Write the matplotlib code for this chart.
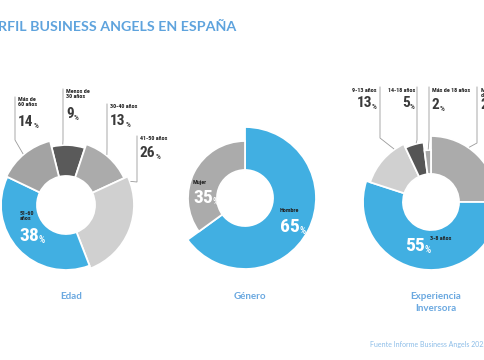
import os
import numpy as np
import matplotlib
matplotlib.use("Agg")
import matplotlib.pyplot as plt
import matplotlib.font_manager as fm

# data
edad_labels = ["Menos de\n30 años", "30-40 años", "41-50 años", "51-60\naños", "Más de\n60 años"]
edad_vals = [9, 13, 26, 38, 14]
genero_labels = ["Hombre", "Mujer"]
genero_vals = [65, 35]
exp_labels = ["Menos\nde 3 años", "3-8 años", "9-13 años", "14-18 años", "Más de 18 años"]
exp_vals = [25, 55, 13, 5, 2]
titles = ["Edad", "Género", "Experiencia\nInversora"]

# style
W, H = 485, 360
BLUE = "#41afe2"
TITLE_BLUE = "#5ea3dd"
LINE = "#9a9a9a"
HEAD = ["Lato", "DejaVu Sans"]


def find_font(names):
    files = {os.path.basename(f.fname).lower(): f.fname for f in fm.fontManager.ttflist}
    for n in names:
        for k, v in files.items():
            if k.startswith(n):
                return fm.FontProperties(fname=v)
    return None


NUM_FP = find_font(["robotocondensed-bold", "liberationsansnarrow-bold.", "dejavusanscondensed-bold.",
                    "notosans-condensedbold", "opensans-condensedbold", "notosans-condensedsemibold"])
TXT_FP = find_font(["robotocondensed-medium", "robotocondensed-regular", "liberationsansnarrow-regular",
                    "dejavusanscondensed.", "notosans-condensedmedium", "notosans-condensed."])
if NUM_FP is None:
    NUM_FP = fm.FontProperties(family="DejaVu Sans", weight="bold")
if TXT_FP is None:
    TXT_FP = fm.FontProperties(family="DejaVu Sans")

fig = plt.figure(figsize=(W / 100, H / 100), dpi=100)
ax = fig.add_axes([0, 0, 1, 1])


def fp(base, size):
    p = base.copy()
    p.set_size(size)
    return p


def donut(vals, center, radii, inner, start, colors):
    cx, cy = center
    wedges, _ = ax.pie(vals, center=(cx, H - cy), radius=max(radii), startangle=start,
                       counterclock=False, colors=colors,
                       wedgeprops=dict(width=max(radii) - inner, edgecolor="white", linewidth=1.3))
    for w, r in zip(wedges, radii):
        w.set_radius(r)
        w.set_width(r - inner)
    return wedges


def point_on(center, r, ang):
    cx, cy = center
    a = np.radians(ang)
    return cx + r * np.cos(a), H - (cy - r * np.sin(a))


def pct(x, y, value, size, color, ha="left"):
    # y is the baseline, in pixels from the top
    if ha == "left":
        t = ax.text(x, H - y, str(value), fontproperties=fp(NUM_FP, size), color=color,
                    ha="left", va="baseline")
        ax.annotate("%", xy=(1, 0), xycoords=t, fontproperties=fp(TXT_FP, size * 0.5),
                    color=color, ha="left", va="bottom")
    else:
        p = ax.text(x, H - y, "%", fontproperties=fp(TXT_FP, size * 0.5), color=color,
                    ha="right", va="baseline")
        ax.annotate(str(value), xy=(0, 0), xycoords=p, fontproperties=fp(NUM_FP, size),
                    color=color, ha="right", va="bottom")


def small(x, y, s, color="#222222", ha="left"):
    ax.text(x, H - y, s, fontproperties=fp(NUM_FP, 4.4), color=color, ha=ha, va="top",
            linespacing=1.0)


def leader(pts):
    xs = [p[0] for p in pts]
    ys = [p[1] for p in pts]
    ax.plot(xs, ys, color=LINE, lw=0.6, solid_joinstyle="miter")


# ---- Edad ----
c1 = (66, 205)
r1 = [60, 64, 68, 65, 66]
donut(edad_vals, c1, r1, 29, 104, ["#5a5a5a", "#ababab", "#d0d0d0", BLUE, "#a3a3a3"])

# outside labels: (index, text x, text top, line x, knee y, anchor angle)
out1 = [(4, 18, 97, 15, 140, 130), (0, 66, 89, 63, 140, 93),
        (1, 110, 104, 107, 148, 51), (2, 140, 136, 137, 182, 20)]
for i, tx, ty, lx, ky, ang in out1:
    nlines = edad_labels[i].count("\n") + 1
    small(tx, ty, edad_labels[i])
    pct(tx, ty + 7.5 * nlines + 14, edad_vals[i], 11, "#3a3a3a")
    leader([(lx, H - ty), (lx, H - ky), point_on(c1, r1[i] + 1, ang)])

small(20, 211, edad_labels[3])
pct(19, 241, edad_vals[3], 14, "white")

# ---- Género ----
c2 = (245, 198)
r2 = [71, 57]
donut(genero_vals, c2, r2, 28, 90, [BLUE, "#ababab"])
small(280, 208, genero_labels[0])
pct(280, 232, genero_vals[0], 14, "white")
small(193, 180, genero_labels[1])
pct(193, 203, genero_vals[1], 14, "white")

# ---- Experiencia ----
c3 = (431, 202)
r3 = [66, 68, 64, 60, 52]
donut(exp_vals, c3, r3, 28, 90, ["#ababab", BLUE, "#d0d0d0", "#555555", "#a8a8a8"])

# (index, text x, align, line x, knee y, anchor angle)
out3 = [(2, 377, "right", 380, 138, 125), (3, 415, "right", 417, 140, 104),
        (4, 432, "left", 429, 140, 93), (0, 481, "left", 477, 143, 55)]
for i, tx, ha, lx, ky, ang in out3:
    small(tx, 88, exp_labels[i], ha=ha)
    pct(tx, 88 + 7.5 + 14, exp_vals[i], 11, "#3a3a3a", ha=ha)
    leader([(lx, H - 87), (lx, H - ky), point_on(c3, r3[i] + 1, ang)])

pct(405, 251, exp_vals[1], 14, "white")
small(430, 236, exp_labels[1])

# titles
ax.text(236, H - 27, "PERFIL BUSINESS ANGELS EN ESPAÑA", fontsize=10.25, fontweight="bold",
        color=TITLE_BLUE, family=HEAD, ha="right", va="center")
for (cx, _), t in zip([c1, c2, c3], titles):
    ax.text(cx + 5, H - 292, t, fontsize=7, fontweight="bold", color="#6aa8e0",
            family=HEAD, ha="center", va="top", linespacing=1.4)
ax.text(487, H - 344, "Fuente Informe Business Angels 2025", fontsize=5.0, color="#8cbde8",
        family=HEAD, ha="right", va="center")

ax.set_xlim(0, W)
ax.set_ylim(0, H)
ax.set_aspect("equal")
ax.axis("off")

fig.savefig("out.png", dpi=100)
